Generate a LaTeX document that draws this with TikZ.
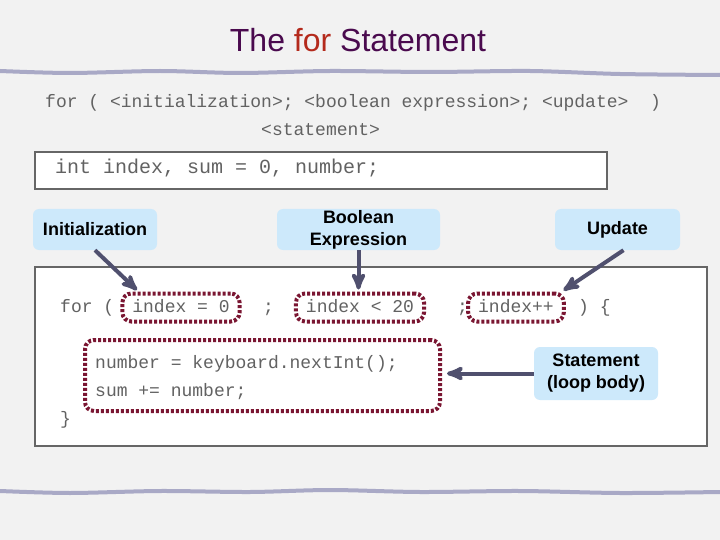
\documentclass[tikz,border=0pt]{standalone}
\usepackage{fontspec}
\setmainfont{Liberation Sans}
\setmonofont{Liberation Mono}
\usetikzlibrary{arrows}
\definecolor{titlepurple}{HTML}{4A0A4E}
\definecolor{forred}{HTML}{B42A1C}
\definecolor{callblue}{HTML}{CDE9FB}
\definecolor{dotred}{HTML}{7A1632}
\definecolor{arrowgray}{HTML}{50506E}
\definecolor{wavegray}{HTML}{A9A9C6}
\definecolor{codegray}{HTML}{626262}
\definecolor{paper}{HTML}{F2F2F2}
\tikzset{
 callout/.style={fill=callblue, rounded corners=6pt, inner sep=0pt, align=center,
   font=\fontsize{18}{22}\selectfont\bfseries},
 dotbox/.style={draw=dotred, line width=4pt, dash pattern=on 3pt off 2pt,
   rounded corners=9pt, minimum height=28pt, inner xsep=10pt, inner ysep=0pt,
   text height=13pt, text depth=4pt},
 code/.style={font=\ttfamily\fontsize{18}{28}\selectfont, text=codegray, inner sep=0pt},
 codebox/.style={fill=white, draw=black!60, line width=1.2pt},
 pointer/.style={arrowgray, line width=4pt, ->, >=stealth', shorten >=2pt},
 wave/.style={wavegray, line width=4pt, line cap=round}
}
\begin{document}
\begin{tikzpicture}[x=1pt, y=-1pt]
\fill[paper] (0,0) rectangle (720,540);
\useasboundingbox (0,0) rectangle (720,540);
\node[anchor=base, text=titlepurple, font=\fontsize{32}{36}\selectfont] (title) at (358,52)
  {The {\color{forred}for} Statement};
\draw[wave] plot[smooth] coordinates {(0,71) (70,73) (160,71) (240,73) (330,71) (430,72) (530,71) (620,74) (720,75)};
\draw[wave] plot[smooth] coordinates {(0,491) (70,493) (160,491) (250,492) (330,490) (420,492) (520,491) (620,493) (720,492)};
\node[code, anchor=base west] (syntax) at (45,108) {for ( <initialization>; <boolean expression>; <update>~~)};
\node[code, anchor=base west] (syntaxstmt) at (261,136) {<statement>};
\draw[codebox] (35,152) rectangle (607,189);
\node[code, anchor=base west, font=\ttfamily\fontsize{20}{24}\selectfont] (decl) at (55,174) {int index, sum = 0, number;};
\draw[codebox] (35,267) rectangle (707,446);
\node[code, anchor=base west] (forkw) at (60,312) {for (};
\node[code, dotbox, anchor=base] (init) at (181,312) {index = 0};
\node[code, anchor=base west] (semi1) at (263,312) {;};
\node[code, dotbox, anchor=base] (cond) at (360,312) {index < 20};
\node[code, anchor=base west] (semi2) at (457,312) {;};
\node[code, dotbox, anchor=base] (upd) at (516,312) {index++};
\node[code, anchor=base west] (brace) at (578,312) {) \{};
\node[dotbox, minimum width=355pt, minimum height=71pt, inner sep=0pt, text height=0pt, text depth=0pt] (body) at (262.5,375.5) {};
\node[code, anchor=base west] (line1) at (95,368) {number = keyboard.nextInt();};
\node[code, anchor=base west] (line2) at (95,396) {sum += number;};
\node[code, anchor=base west] (close) at (60,424) {\}};
\node[callout, minimum width=124pt, minimum height=41pt] (initl) at (95,229.5) {Initialization};
\node[callout, minimum width=163pt, minimum height=41pt] (booll) at (358.5,229.5) {Boolean\\Expression};
\node[callout, minimum width=125pt, minimum height=41pt] (updl) at (617.5,229.5) {Update};
\node[callout, minimum width=124pt, minimum height=53pt] (stmtl) at (596,373.5) {Statement\\(loop body)};
\draw[pointer] (initl.south) -- ([xshift=18pt]init.north west);
\draw[pointer] (booll.south) -- (booll.south |- cond.north);
\draw[pointer] ([xshift=6pt]updl.south) -- ([xshift=-4pt]upd.north east);
\draw[pointer, shorten >=5pt] (stmtl.west) -- (stmtl.west -| body.east);
\end{tikzpicture}
\end{document}
